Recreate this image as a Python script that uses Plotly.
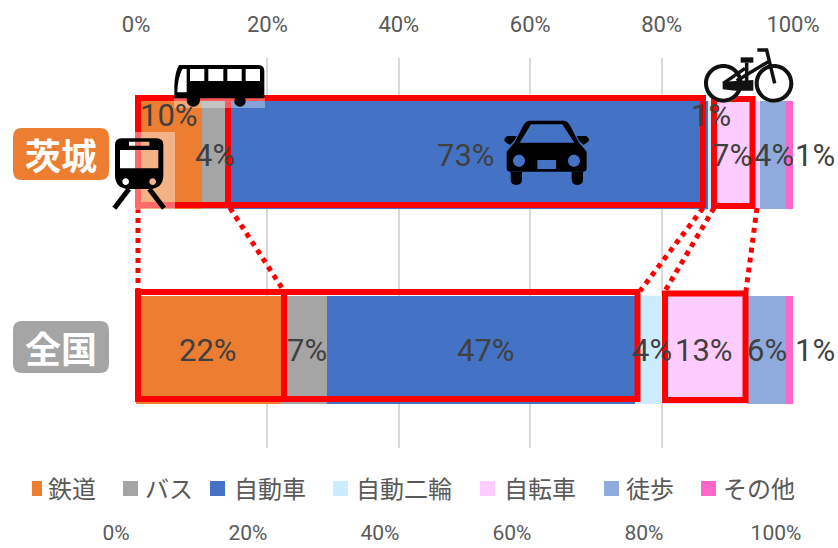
import plotly.graph_objects as go

W, H = 838, 548

# Modal share of commuting trips, percent
regions = ["茨城", "全国"]
modes = ["鉄道", "バス", "自動車", "自動二輪", "自転車", "徒歩", "その他"]
ibaraki = [10, 4, 73, 1, 7, 4, 1]
national = [22, 7, 47, 4, 13, 6, 1]
tick_values = [0, 20, 40, 60, 80, 100]

COLORS = ["#ED7D31", "#A5A5A5", "#4472C4", "#CCECFF", "#FFCCFF", "#8FAADC", "#FF66CC"]
TEXT = "#404040"
AXIS = "#595959"
RED = "#FF0000"
JP = "Noto Sans CJK JP"
NUM = "Roboto"

# Pixel layout of the page
PLOT_L, PLOT_R, PLOT_T, PLOT_B = 136, 793, 57.5, 447.5
LOWER_L, LOWER_R = 116, 776
LOWER_AXIS_Y = 518


def px(x):
    return round(x / W, 5)


def py(y):
    return round(1 - y / H, 5)


def path(cmds, ox=0, oy=0, s=1.0):
    """Turn (letter, x1, y1, x2, y2...) tuples in pixels into a paper-space SVG path."""
    out = []
    for c in cmds:
        nums = c[1:]
        pts = []
        for i in range(0, len(nums), 2):
            pts.append(f"{px(ox + nums[i] * s)},{py(oy + nums[i + 1] * s)}")
        out.append(c[0] + " ".join(pts))
    return " ".join(out)


def circle(cx, cy, r):
    k = 0.5523 * r
    return [
        ("M", cx - r, cy),
        ("C", cx - r, cy - k, cx - k, cy - r, cx, cy - r),
        ("C", cx + k, cy - r, cx + r, cy - k, cx + r, cy),
        ("C", cx + r, cy + k, cx + k, cy + r, cx, cy + r),
        ("C", cx - k, cy + r, cx - r, cy + k, cx - r, cy),
        ("Z",),
    ]


def box(x0, y0, x1, y1):
    return [("M", x0, y0), ("L", x1, y0), ("L", x1, y1), ("L", x0, y1), ("Z",)]


def rounded(x0, y0, x1, y1, r):
    return [
        ("M", x0 + r, y0), ("L", x1 - r, y0), ("Q", x1, y0, x1, y0 + r),
        ("L", x1, y1 - r), ("Q", x1, y1, x1 - r, y1),
        ("L", x0 + r, y1), ("Q", x0, y1, x0, y1 - r),
        ("L", x0, y0 + r), ("Q", x0, y0, x0 + r, y0), ("Z",),
    ]


shapes = []


def filled(cmds, color, ox=0, oy=0, s=1.0, opacity=1):
    shapes.append(dict(type="path", xref="paper", yref="paper", path=path(cmds, ox, oy, s),
                       fillcolor=color, line=dict(width=0), opacity=opacity,
                       fillrule="evenodd", layer="above"))


def stroked(cmds, color, width, ox=0, oy=0, s=1.0, dash="solid"):
    shapes.append(dict(type="path", xref="paper", yref="paper", path=path(cmds, ox, oy, s),
                       line=dict(color=color, width=width, dash=dash), layer="above"))


# Dotted guides linking the upper bar to the lower one
for x0, x1 in [(138, 138), (230, 284), (703, 640), (714, 665), (757, 746)]:
    stroked([("M", x0, 208), ("L", x1, 291)], RED, 5, dash="dot")

# Red frames around the highlighted segments
for x0, y0, x1, y1 in [
    (138, 98, 228, 205), (228, 98, 703, 205), (714, 99, 752.5, 206),
    (138, 292, 284, 399), (284, 292, 637.5, 399), (665, 293.5, 745.5, 400),
]:
    stroked(box(x0, y0, x1, y1), RED, 6)

# Region badges
filled(rounded(13, 128, 109, 180, 9), COLORS[0])
filled(rounded(13, 321, 109, 373, 9), COLORS[1])

# Train icon on a translucent white plate
filled(box(110, 132, 175, 210), "#FFFFFF", opacity=0.42)
T = dict(ox=105, oy=125, s=1 / 3)
filled(
    [("M", 50, 40), ("L", 155, 40), ("Q", 175, 40, 175, 60), ("L", 175, 150),
     ("Q", 175, 190, 135, 192), ("L", 70, 192), ("Q", 30, 190, 30, 150),
     ("L", 30, 60), ("Q", 30, 40, 50, 40), ("Z",)]
    + box(45, 75, 160, 130) + box(72, 50, 133, 62)
    + circle(62, 170, 10) + circle(143, 170, 10),
    "#000000", **T,
)
stroked([("M", 72, 192), ("L", 28, 250)], "#000000", 5, **T)
stroked([("M", 133, 192), ("L", 177, 250)], "#000000", 5, **T)

# Bus icon with a pale strip under the chassis
filled(box(174, 98, 265, 108), "#FFFFFF", opacity=0.35)
B = dict(ox=165, oy=55, s=1 / 3)
filled(
    [("M", 42, 30), ("L", 280, 30), ("Q", 298, 30, 298, 48), ("L", 298, 130),
     ("L", 28, 130), ("L", 28, 90), ("Q", 30, 50, 42, 30), ("Z",)]
    + box(75, 42, 118, 78) + box(130, 42, 175, 78)
    + box(187, 42, 230, 78) + box(242, 42, 285, 78)
    + [("M", 52, 42), ("L", 65, 42), ("L", 65, 112), ("L", 37, 112), ("Q", 38, 70, 52, 42), ("Z",)],
    "#000000", **B,
)
filled(circle(85, 135, 20), "#000000", **B)
filled(circle(225, 138, 17), "#000000", **B)

# Car icon
C = dict(ox=495, oy=110, s=1 / 3)
filled(
    [("M", 105, 32), ("L", 205, 32), ("Q", 218, 32, 226, 48), ("L", 250, 95),
     ("L", 275, 125), ("L", 275, 175), ("Q", 275, 185, 265, 185),
     ("L", 45, 185), ("Q", 35, 185, 35, 175), ("L", 35, 125), ("L", 60, 95),
     ("L", 84, 48), ("Q", 92, 32, 105, 32), ("Z",)]
    + [("M", 108, 43), ("L", 202, 43), ("L", 238, 98), ("L", 74, 98), ("Z",)]
    + circle(72, 152, 18) + circle(237, 152, 18) + box(127, 150, 183, 177),
    "#000000", **C,
)
for x0, x1 in [(47, 81), (230, 264)]:
    filled([("M", x0, 185), ("L", x1, 185), ("L", x1, 208),
            ("Q", x1, 225, (x0 + x1) / 2, 225), ("Q", x0, 225, x0, 208), ("Z",)], "#000000", **C)
filled([("M", 65, 78), ("L", 38, 78), ("Q", 28, 82, 28, 92), ("Q", 36, 102, 45, 104), ("L", 58, 92), ("Z",)], "#000000", **C)
filled([("M", 245, 78), ("L", 272, 78), ("Q", 282, 82, 282, 92), ("Q", 274, 102, 265, 104), ("L", 252, 92), ("Z",)], "#000000", **C)

# Bicycle icon
K = dict(ox=700, oy=40, s=1 / 3)
for cx in (70, 222):
    filled(circle(cx, 130, 58), "#FFFFFF", **K)
    filled(circle(cx, 130, 58) + circle(cx, 130, 46), "#111111", **K)
filled([("M", 68, 125), ("L", 160, 120), ("L", 160, 152), ("L", 105, 152), ("L", 68, 148), ("Z",)], "#111111", **K)
filled(box(122, 52, 160, 68), "#111111", **K)
for seg in (
    [("M", 110, 122), ("L", 205, 65)],
    [("M", 70, 130), ("L", 135, 85)],
    [("M", 140, 68), ("L", 140, 125)],
    [("M", 172, 30), ("L", 200, 30), ("L", 224, 130)],
):
    stroked(seg, "#111111", 3.5, **K)

# Hand-placed legend row
legend_swatches = [(32, 42), (123, 138), (210, 225), (333, 348), (480, 495), (604, 619), (701, 716)]
legend_text_x = [46, 143, 232, 354, 502, 624, 721]
for (x0, x1), col in zip(legend_swatches, COLORS):
    filled(box(x0, 481, x1, 496), col)

fig = go.Figure()
for i, mode in enumerate(modes):
    fig.add_trace(go.Bar(
        y=regions, x=[ibaraki[i], national[i]], name=mode, orientation="h",
        marker=dict(color=COLORS[i], line=dict(width=0)), showlegend=False,
        hovertemplate=mode + " %{y}: %{x}%<extra></extra>",
    ))
# Keeps the lower copy of the percent axis alive
fig.add_trace(go.Scatter(x=[0, 100], y=regions, xaxis="x2", mode="markers",
                         marker=dict(opacity=0), showlegend=False, hoverinfo="skip"))

# Value labels: segment midpoint plus a nudge where the segment is too narrow
nudges = {
    ("茨城", 0): (0, 40), ("茨城", 3): (0, 40), ("茨城", 6): (25, 0), ("全国", 6): (25, 0),
    ("茨城", 2): (-2, 0), ("全国", 2): (5, 0), ("全国", 1): (3, 0), ("全国", 3): (4, 0),
    ("茨城", 4): (-5, 0), ("茨城", 5): (1, 0),
}
annotations = []
for region, values in zip(regions, (ibaraki, national)):
    left = 0
    for i, v in enumerate(values):
        dx, dy = nudges.get((region, i), (0, 0))
        annotations.append(dict(x=left + v / 2, y=region, xref="x", yref="y", text=f"{v}%",
                                showarrow=False, xshift=dx, yshift=dy,
                                font=dict(family=NUM, size=31, color=TEXT)))
        left += v

for name, y in zip(regions, (154, 347)):
    annotations.append(dict(x=px(61), y=py(y), xref="paper", yref="paper", text=f"<b>{name}</b>",
                            xanchor="center", yanchor="middle", showarrow=False,
                            font=dict(family=JP, size=36, color="#FFFFFF")))
for name, x in zip(modes, legend_text_x):
    annotations.append(dict(x=px(x), y=py(488), xref="paper", yref="paper", text=name,
                            xanchor="left", yanchor="middle", showarrow=False,
                            font=dict(family=JP, size=24, color=AXIS)))

percent_axis = dict(range=[0, 100], tickmode="array", tickvals=tick_values,
                    ticktext=[f"{v}%" for v in tick_values], zeroline=False, showline=False,
                    automargin=False)

fig.update_layout(
    width=W, height=H, margin=dict(l=0, r=0, t=0, b=0),
    paper_bgcolor="#FFFFFF", plot_bgcolor="rgba(0,0,0,0)",
    barmode="stack", bargap=0.446, showlegend=False,
    xaxis=dict(**percent_axis, domain=[px(PLOT_L), px(PLOT_R)], side="top",
               showgrid=True, gridcolor="#D9D9D9", gridwidth=2,
               ticks="outside", ticklen=16, tickcolor="rgba(0,0,0,0)",
               tickfont=dict(family=NUM, size=22, color=AXIS)),
    xaxis2=dict(**percent_axis, domain=[px(LOWER_L), px(LOWER_R)], side="bottom",
                anchor="free", position=py(LOWER_AXIS_Y), showgrid=False, ticks="",
                tickfont=dict(family=NUM, size=21, color=AXIS)),
    yaxis=dict(domain=[py(PLOT_B), py(PLOT_T)], autorange="reversed", type="category",
               categoryorder="array", categoryarray=regions, showticklabels=False, automargin=False,
               showgrid=False, zeroline=False, showline=False, ticks=""),
    shapes=shapes, annotations=annotations,
)

fig.write_html("out.html")
